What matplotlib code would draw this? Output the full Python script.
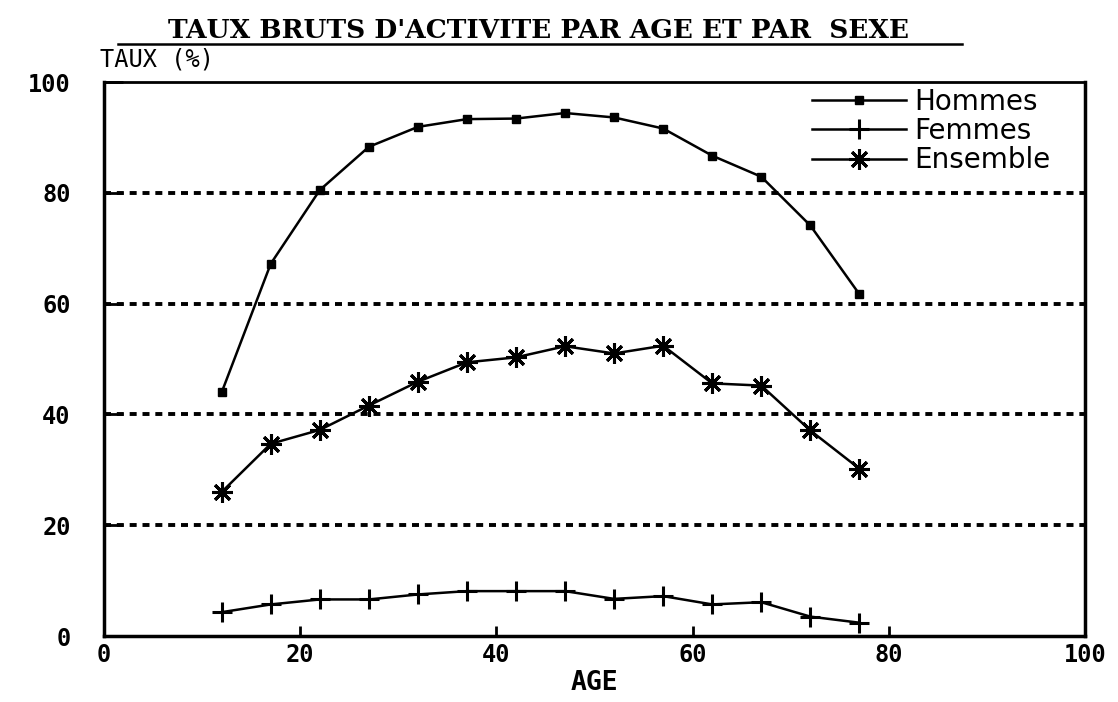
import matplotlib
matplotlib.use("Agg")
import matplotlib.pyplot as plt
from matplotlib.lines import Line2D

# data
ages = [12, 17, 22, 27, 32, 37, 42, 47, 52, 57, 62, 67, 72, 77]
hommes = [44, 67.2, 80.5, 88.3, 91.9, 93.3, 93.4, 94.4, 93.6, 91.6, 86.7, 82.9, 74.1, 61.7]
femmes = [4.3, 5.7, 6.6, 6.6, 7.5, 8.1, 8.1, 8.1, 6.7, 7.2, 5.7, 6.1, 3.5, 2.4]
ensemble = [26.0, 34.7, 37.2, 41.6, 45.9, 49.4, 50.3, 52.3, 51.0, 52.4, 45.6, 45.2, 37.1, 30.2]
xticks = [0, 20, 40, 60, 80, 100]
yticks = [0, 20, 40, 60, 80, 100]

fig = plt.figure(figsize=(11.18, 7.02), dpi=100)
ax = fig.add_axes([104 / 1118, 66 / 702, 981 / 1118, 554 / 702])

# dotted grid lines
for y in yticks[1:-1]:
    ax.axhline(y, color="black", lw=2.8, linestyle=(0, (1.8, 1.5)), zorder=1)

ax.plot(ages, hommes, color="black", lw=1.8, marker="s", markersize=5.5,
        label="Hommes", zorder=3)
ax.plot(ages, femmes, color="black", lw=1.8, marker="+", markersize=14,
        markeredgewidth=2.2, label="Femmes", zorder=3)
ax.plot(ages, ensemble, color="black", lw=1.8, marker=(8, 2, 0), markersize=15,
        markeredgewidth=2.2, label="Ensemble", zorder=3)

ax.set_xlim(0, 100)
ax.set_ylim(0, 100)
ax.set_xticks(xticks)
ax.set_yticks(yticks)

tick_font = dict(family="DejaVu Sans Mono", weight="bold", size=17)
ax.set_xticklabels([str(t) for t in xticks], **tick_font)
ax.set_yticklabels([str(t) for t in yticks], **tick_font)
ax.tick_params(axis="y", direction="in", length=14, width=2, pad=24)
ax.tick_params(axis="x", direction="in", length=7, width=2, pad=5)

for side in ["left", "bottom", "right"]:
    ax.spines[side].set_linewidth(2.5)
ax.spines["top"].set_linewidth(2)

ax.set_xlabel("AGE", family="DejaVu Sans Mono", weight="bold", size=19, labelpad=2)

leg = ax.legend(loc="upper right", bbox_to_anchor=(0.985, 1.025), frameon=False,
                handlelength=3.4, handletextpad=0.3, labelspacing=0.05,
                borderaxespad=0.3, prop=dict(family="DejaVu Sans", size=20))
leg.set_zorder(5)

# title, underlined
fig.text(539 / 1118, 1 - 30 / 702, "TAUX BRUTS D'ACTIVITE PAR AGE ET PAR  SEXE",
         ha="center", va="center", family="DejaVu Serif", weight="bold", size=19)
fig.add_artist(Line2D([118 / 1118, 962 / 1118], [1 - 44 / 702, 1 - 44 / 702],
                      color="black", lw=1.8))
fig.text(100 / 1118, 1 - 60 / 702, "TAUX (%)", ha="left", va="center",
         family="DejaVu Sans Mono", size=17)

fig.savefig("out.png", dpi=100)
